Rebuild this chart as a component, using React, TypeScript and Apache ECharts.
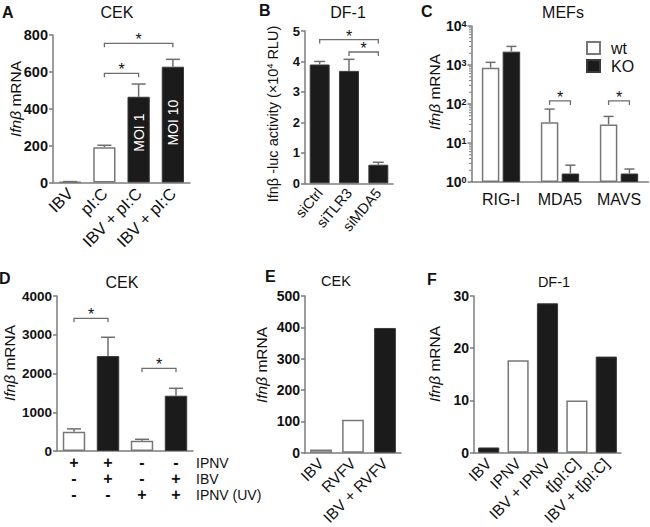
import React, { useEffect, useRef } from "react";
import * as echarts from "echarts";

const FONT = "'Liberation Sans', Arial, Helvetica, sans-serif";
const AXIS = "#7d7d7d";
const ERR = "#6e6e6e";
const INK = "#111111";

// ---------- Panel A (CEK) ----------
const aCategories = ["IBV", "pI:C", "IBV + pI:C", "IBV + pI:C"];
const aValues = [4, 191, 465, 628];
const aErrTop = [5, 202, 534, 668];
const aFill = ["w", "w", "k", "k"];
const aBarText = ["", "", "MOI 1", "MOI 10"];
const aBrackets = [[1, 2, 592], [1, 3, 755]];

// ---------- Panel B (DF-1) ----------
const bCategories = ["siCtrl", "siTLR3", "siMDA5"];
const bValues = [3.9, 3.69, 0.61];
const bErrTop = [4.0, 4.07, 0.69];
const bBrackets = [[1, 2, 4.31], [0, 2, 4.72]];

// ---------- Panel C (MEFs) ----------
const cCategories = ["RIG-I", "MDA5", "MAVS"];
const cSeriesNames = ["wt", "KO"];
const cWt = [850, 34, 30];
const cWtErr = [1170, 74, 48];
const cKo = [2200, 1.65, 1.65];
const cKoErr = [3000, 2.7, 2.15];
const cBrackets = [[1, 120], [2, 120]];
const cDecades = [1, 10, 100, 1000];
const cMinorSteps = [2, 3, 4, 5, 6, 7, 8, 9];

// ---------- Panel D (CEK) ----------
const dCategories = ["+\n-\n-", "+\n+\n-", "-\n-\n+", "-\n+\n+"];
const dRowLabels = ["IPNV", "IBV", "IPNV (UV)"];
const dValues = [500, 2450, 266, 1427];
const dErrTop = [570, 2935, 302, 1618];
const dFill = ["w", "k", "w", "k"];
const dBrackets = [[0, 1, 3425], [2, 3, 2134]];

// ---------- Panel E (CEK) ----------
const eCategories = ["IBV", "RVFV", "IBV + RVFV"];
const eValues = [10, 105, 398];
const eFill = ["w", "w", "k"];

// ---------- Panel F (DF-1) ----------
const fCategories = ["IBV", "IPNV", "IBV + IPNV", "t[pI:C]", "IBV + t[pI:C]"];
const fValues = [1.0, 17.7, 28.6, 10.0, 18.4];
const fFill = ["k", "w", "k", "w", "k"];

// ---------- texts ----------
const yNameMrna = "{i|Ifnβ} mRNA";
const yNameLuc = "Ifnβ -luc activity (×10{s|4} RLU)";

// ---------- layout ----------
const GRIDS = [
  { left: 53, top: 35, width: 137, height: 147.5 },
  { left: 305, top: 31, width: 88, height: 152.3 },
  { left: 471.5, top: 26, width: 177, height: 156 },
  { left: 57, top: 296, width: 136, height: 155 },
  { left: 305, top: 296, width: 96, height: 156.7 },
  { left: 474, top: 296, width: 147, height: 156.7 },
];
// upward shift (px) of the rotated in-bar texts
const A_LABEL_SHIFT = [0, 0, 7, 2];

const whiteStyle = { color: "#ffffff", borderColor: "#777777", borderWidth: 1.5 };
const blackStyle = { color: "#1b1b1b", borderColor: "#3a3a3a", borderWidth: 1 };

const C_CAT_GAP = 0.35;
const C_BAR_GAP = 0.19;

function barItems(vals: number[], fills: string[], texts?: string[], shifts?: number[]) {
  return vals.map((v, i) => {
    const item: any = { value: v, itemStyle: fills[i] === "k" ? blackStyle : whiteStyle };
    if (texts && texts[i]) {
      item.label = {
        show: true,
        position: "inside",
        rotate: 90,
        offset: [shifts ? shifts[i] : 0, 0],
        formatter: texts[i],
        color: "#ffffff",
        fontSize: 14,
        fontFamily: FONT,
      };
    }
    return item;
  });
}

function yAxisOpt(gridIndex: number, min: number, max: number, interval: number, fontSize: number) {
  return {
    type: "value",
    gridIndex,
    min,
    max,
    interval,
    axisLine: { show: true, lineStyle: { color: AXIS, width: 1.5 } },
    axisTick: { show: true, length: 4, lineStyle: { color: AXIS, width: 1.5 } },
    axisLabel: {
      color: INK,
      fontSize,
      fontWeight: "bold",
      fontFamily: FONT,
      margin: 5,
      formatter: (v: number) => String(v),
    },
    splitLine: { show: false },
  };
}

function xAxisOpt(gridIndex: number, data: string[], fontSize: number, rotate: number, margin: number, extra: any = {}) {
  return {
    type: "category",
    gridIndex,
    data,
    axisLine: { show: true, lineStyle: { color: AXIS, width: 1.5 } },
    axisTick: { show: false },
    axisLabel: { interval: 0, rotate, fontSize, color: INK, fontFamily: FONT, margin, ...extra },
    splitLine: { show: false },
  };
}

function errSeries(idx: number, vals: number[], errs: number[], cap: number, offsetSign = 0) {
  return {
    type: "custom",
    xAxisIndex: idx,
    yAxisIndex: idx,
    z: 4,
    silent: true,
    data: vals.map((v, i) => [i, v, errs[i]]),
    encode: { x: 0, y: [1, 2] },
    renderItem: (params: any, api: any) => {
      const xi = api.value(0);
      const p0 = api.coord([xi, api.value(1)]);
      const p1 = api.coord([xi, api.value(2)]);
      let off = 0;
      if (offsetSign !== 0) {
        const band = api.size([1, 0], [xi, 10])[0];
        const w = (band * (1 - C_CAT_GAP)) / (2 + C_BAR_GAP);
        off = (offsetSign * (w + w * C_BAR_GAP)) / 2;
      }
      const x = p0[0] + off;
      const st = { stroke: ERR, lineWidth: 1.5 };
      return {
        type: "group",
        children: [
          { type: "line", shape: { x1: x, y1: p0[1], x2: x, y2: p1[1] }, style: st },
          { type: "line", shape: { x1: x - cap, y1: p1[1], x2: x + cap, y2: p1[1] }, style: st },
        ],
      };
    },
  };
}

function starText(x: number, y: number) {
  return {
    type: "text",
    style: {
      text: "*",
      x,
      y,
      fill: INK,
      fontSize: 16,
      fontFamily: FONT,
      textAlign: "center",
      align: "center",
      textVerticalAlign: "middle",
      verticalAlign: "middle",
    },
  };
}

function bracketShape(x1: number, x2: number, y: number) {
  return {
    type: "group",
    children: [
      {
        type: "polyline",
        shape: { points: [[x1, y + 4], [x1, y], [x2, y], [x2, y + 4]] },
        style: { stroke: ERR, lineWidth: 1.3, fill: "none" },
      },
      starText((x1 + x2) / 2, y - 3.5),
    ],
  };
}

function bracketSeries(idx: number, brackets: number[][]) {
  return {
    type: "custom",
    xAxisIndex: idx,
    yAxisIndex: idx,
    z: 4,
    silent: true,
    data: brackets,
    encode: { x: [0, 1], y: 2 },
    renderItem: (params: any, api: any) => {
      const p1 = api.coord([api.value(0), api.value(2)]);
      const p2 = api.coord([api.value(1), api.value(2)]);
      return bracketShape(p1[0], p2[0], p1[1]);
    },
  };
}

function groupedBracketSeries(idx: number, brackets: number[][]) {
  return {
    type: "custom",
    xAxisIndex: idx,
    yAxisIndex: idx,
    z: 4,
    silent: true,
    data: brackets,
    encode: { x: 0, y: 1 },
    renderItem: (params: any, api: any) => {
      const xi = api.value(0);
      const p = api.coord([xi, api.value(1)]);
      const band = api.size([1, 0], [xi, 10])[0];
      const w = (band * (1 - C_CAT_GAP)) / (2 + C_BAR_GAP);
      const off = (w + w * C_BAR_GAP) / 2;
      return bracketShape(p[0] - off, p[0] + off, p[1]);
    },
  };
}

function textEl(text: string, x: number, y: number, size: number, align = "left", va = "middle", weight = "normal") {
  return {
    type: "text",
    x,
    y,
    silent: true,
    style: {
      text,
      fill: INK,
      fontSize: size,
      fontWeight: weight,
      fontFamily: FONT,
      textAlign: align,
      align,
      textVerticalAlign: va,
      verticalAlign: va,
    },
  };
}

function yNameEl(text: string, x: number, y: number, size: number) {
  return {
    type: "text",
    x,
    y,
    rotation: Math.PI / 2,
    silent: true,
    style: {
      text,
      fill: INK,
      fontSize: size,
      fontFamily: FONT,
      textAlign: "center",
      align: "center",
      textVerticalAlign: "middle",
      verticalAlign: "middle",
      rich: {
        i: { fontStyle: "italic", fontSize: size, fontFamily: FONT, fill: INK, color: INK },
        s: { fontSize: size * 0.62, fontFamily: FONT, fill: INK, color: INK, verticalAlign: "top" },
      },
    },
  };
}

export default function App() {
  const ref = useRef<HTMLDivElement>(null);

  useEffect(() => {
    if (!ref.current) return;
    const chart = echarts.init(ref.current, null, { renderer: "svg" });

    const minorTickData: number[][] = [];
    cDecades.forEach((d) => cMinorSteps.forEach((m) => minorTickData.push([0, m * d])));

    const cYAxis: any = {
      type: "log",
      logBase: 10,
      gridIndex: 2,
      min: 1,
      max: 10000,
      axisLine: { show: true, lineStyle: { color: AXIS, width: 1.5 } },
      axisTick: { show: true, length: 4, lineStyle: { color: AXIS, width: 1.5 } },
      axisLabel: {
        color: INK,
        fontSize: 14,
        fontWeight: "bold",
        fontFamily: FONT,
        margin: 5,
        formatter: (v: number) => `10{s|${Math.round(Math.log10(v))}}`,
        rich: {
          s: { fontSize: 9, fontWeight: "bold", fontFamily: FONT, color: INK, verticalAlign: "top", lineHeight: 10 },
        },
      },
      splitLine: { show: false },
    };

    const option: any = {
      animation: false,
      backgroundColor: "#ffffff",
      textStyle: { fontFamily: FONT },
      grid: GRIDS.map((g) => ({ ...g, outerBoundsMode: "none", containLabel: false })),
      legend: {
        data: cSeriesNames,
        orient: "vertical",
        left: 581,
        top: 35,
        itemWidth: 13,
        itemHeight: 12,
        itemGap: 2,
        icon: "rect",
        selectedMode: false,
        textStyle: { fontSize: 16, fontFamily: FONT, color: INK, padding: [0, 0, 0, 6] },
      },
      xAxis: [
        xAxisOpt(0, aCategories, 16.5, 45, 8),
        xAxisOpt(1, bCategories, 14.5, 50, 7),
        xAxisOpt(2, cCategories, 16, 0, 9),
        xAxisOpt(3, dCategories, 16, 0, 3, { fontWeight: "bold", lineHeight: 16.3 }),
        xAxisOpt(4, eCategories, 15.5, 45, 8),
        xAxisOpt(5, fCategories, 15.5, 45, 8),
      ],
      yAxis: [
        yAxisOpt(0, 0, 800, 200, 14.5),
        yAxisOpt(1, 0, 5, 1, 13),
        cYAxis,
        yAxisOpt(3, 0, 4000, 1000, 13.5),
        yAxisOpt(4, 0, 500, 100, 14),
        yAxisOpt(5, 0, 30, 10, 14),
      ],
      series: [
        // A
        {
          type: "bar",
          xAxisIndex: 0,
          yAxisIndex: 0,
          barCategoryGap: "35%",
          z: 2,
          data: barItems(aValues, aFill, aBarText, A_LABEL_SHIFT),
        },
        errSeries(0, aValues, aErrTop, 7),
        bracketSeries(0, aBrackets),
        // B
        { type: "bar", xAxisIndex: 1, yAxisIndex: 1, barCategoryGap: "32%", z: 2, data: barItems(bValues, ["k", "k", "k"]) },
        errSeries(1, bValues, bErrTop, 5.5),
        bracketSeries(1, bBrackets),
        // C
        {
          type: "bar",
          name: cSeriesNames[0],
          xAxisIndex: 2,
          yAxisIndex: 2,
          barCategoryGap: `${C_CAT_GAP * 100}%`,
          barGap: `${C_BAR_GAP * 100}%`,
          itemStyle: whiteStyle,
          z: 2,
          data: cWt,
        },
        {
          type: "bar",
          name: cSeriesNames[1],
          xAxisIndex: 2,
          yAxisIndex: 2,
          barCategoryGap: `${C_CAT_GAP * 100}%`,
          barGap: `${C_BAR_GAP * 100}%`,
          itemStyle: blackStyle,
          z: 2,
          data: cKo,
        },
        errSeries(2, cWt, cWtErr, 5, -1),
        errSeries(2, cKo, cKoErr, 5, 1),
        groupedBracketSeries(2, cBrackets),
        {
          type: "custom",
          xAxisIndex: 2,
          yAxisIndex: 2,
          z: 4,
          silent: true,
          data: minorTickData,
          encode: { x: 0, y: 1 },
          renderItem: (params: any, api: any) => {
            const p = api.coord([0, api.value(1)]);
            const x = params.coordSys.x;
            return {
              type: "line",
              shape: { x1: x - 2.5, y1: p[1], x2: x, y2: p[1] },
              style: { stroke: AXIS, lineWidth: 1 },
            };
          },
        },
        // D
        { type: "bar", xAxisIndex: 3, yAxisIndex: 3, barCategoryGap: "34%", z: 2, data: barItems(dValues, dFill) },
        errSeries(3, dValues, dErrTop, 7),
        bracketSeries(3, dBrackets),
        // E
        { type: "bar", xAxisIndex: 4, yAxisIndex: 4, barCategoryGap: "32%", z: 2, data: barItems(eValues, eFill) },
        // F
        { type: "bar", xAxisIndex: 5, yAxisIndex: 5, barCategoryGap: "28%", z: 2, data: barItems(fValues, fFill) },
      ],
      graphic: [
        textEl("A", 2, 4, 16, "left", "top", "bold"),
        textEl("B", 259, 2, 16, "left", "top", "bold"),
        textEl("C", 421, 3, 16, "left", "top", "bold"),
        textEl("D", -1, 270, 16, "left", "top", "bold"),
        textEl("E", 265, 268, 16, "left", "top", "bold"),
        textEl("F", 427, 271, 16, "left", "top", "bold"),
        textEl("CEK", 117, 12, 16, "center"),
        textEl("DF-1", 348, 12, 16, "center"),
        textEl("MEFs", 563, 12, 16, "center"),
        textEl("CEK", 122, 282, 16, "center"),
        textEl("CEK", 336, 281, 14.5, "center"),
        textEl("DF-1", 554, 282, 14.5, "center"),
        textEl(dRowLabels[0], 196, 462.5, 14),
        textEl(dRowLabels[1], 196, 478.8, 14),
        textEl(dRowLabels[2], 196, 495, 14),
        yNameEl(yNameMrna, 15, 99, 15.5),
        yNameEl(yNameLuc, 273, 114, 14.5),
        yNameEl(yNameMrna, 434, 92, 15.5),
        yNameEl(yNameMrna, 9, 363, 15.5),
        yNameEl(yNameMrna, 261, 365, 15.5),
        yNameEl(yNameMrna, 434, 364, 15.5),
      ],
    };

    chart.setOption(option);
    return () => chart.dispose();
  }, []);

  return (
    <div
      ref={ref}
      style={{ position: "absolute", left: 0, top: 0, width: 650, height: 527, background: "#fff" }}
    />
  );
}
